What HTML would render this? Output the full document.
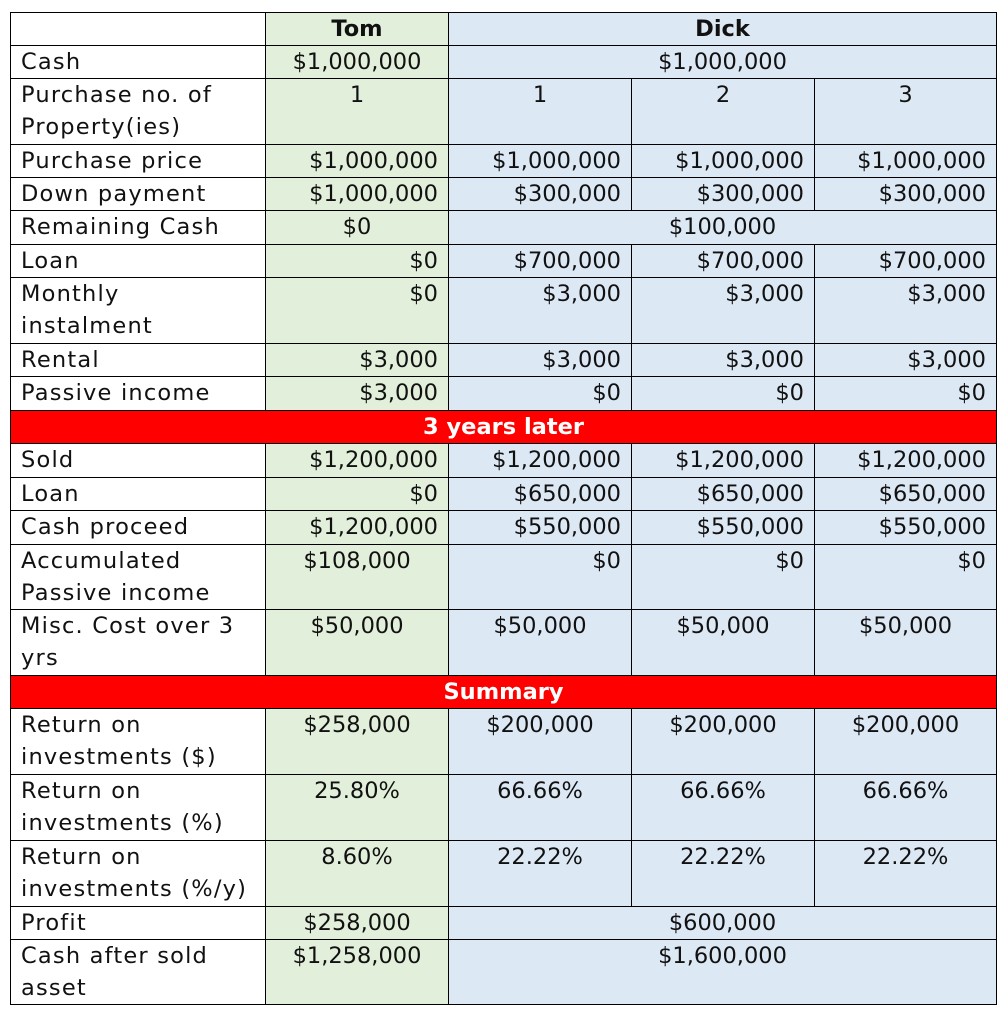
<!DOCTYPE html>
<html><head><meta charset="utf-8"><style>
body{margin:0;background:#fff;width:1003px;height:1029px;overflow:hidden;}
table{position:absolute;left:10px;top:12px;border-collapse:collapse;table-layout:fixed;font-family:"DejaVu Sans","Liberation Sans",sans-serif;font-size:22.5px;color:#111;}
td{border:1px solid #000;padding:0 10px;vertical-align:top;line-height:32px;overflow:hidden;white-space:nowrap;}
td.l{padding-left:10px;text-align:left;letter-spacing:1.2px;}
.g{background:#e2efda;}
.b{background:#dde8f5;}
.r{text-align:right;}
.c{text-align:center;}
.red{background:#ff0000;color:#fff;font-weight:bold;text-align:center;}
.h{font-weight:bold;text-align:center;}
</style></head><body>
<table>
<colgroup><col style="width:255px"><col style="width:183px"><col style="width:183px"><col style="width:183px"><col style="width:182px"></colgroup>
<tr style="height:33px"><td></td><td class="g h">Tom</td><td class="b h" colspan="3">Dick</td></tr>
<tr style="height:33px"><td class="l">Cash</td><td class="g c">$1,000,000</td><td class="b c" colspan="3">$1,000,000</td></tr>
<tr style="height:66px"><td class="l">Purchase no. of<br>Property(ies)</td><td class="g c">1</td><td class="b c">1</td><td class="b c">2</td><td class="b c">3</td></tr>
<tr style="height:33px"><td class="l">Purchase price</td><td class="g r">$1,000,000</td><td class="b r">$1,000,000</td><td class="b r">$1,000,000</td><td class="b r">$1,000,000</td></tr>
<tr style="height:33px"><td class="l">Down payment</td><td class="g r">$1,000,000</td><td class="b r">$300,000</td><td class="b r">$300,000</td><td class="b r">$300,000</td></tr>
<tr style="height:34px"><td class="l">Remaining Cash</td><td class="g c">$0</td><td class="b c" colspan="3">$100,000</td></tr>
<tr style="height:33px"><td class="l">Loan</td><td class="g r">$0</td><td class="b r">$700,000</td><td class="b r">$700,000</td><td class="b r">$700,000</td></tr>
<tr style="height:66px"><td class="l">Monthly<br>instalment</td><td class="g r">$0</td><td class="b r">$3,000</td><td class="b r">$3,000</td><td class="b r">$3,000</td></tr>
<tr style="height:33px"><td class="l">Rental</td><td class="g r">$3,000</td><td class="b r">$3,000</td><td class="b r">$3,000</td><td class="b r">$3,000</td></tr>
<tr style="height:34px"><td class="l">Passive income</td><td class="g r">$3,000</td><td class="b r">$0</td><td class="b r">$0</td><td class="b r">$0</td></tr>
<tr style="height:33px"><td class="red" colspan="5">3 years later</td></tr>
<tr style="height:34px"><td class="l">Sold</td><td class="g r">$1,200,000</td><td class="b r">$1,200,000</td><td class="b r">$1,200,000</td><td class="b r">$1,200,000</td></tr>
<tr style="height:33px"><td class="l">Loan</td><td class="g r">$0</td><td class="b r">$650,000</td><td class="b r">$650,000</td><td class="b r">$650,000</td></tr>
<tr style="height:34px"><td class="l">Cash proceed</td><td class="g r">$1,200,000</td><td class="b r">$550,000</td><td class="b r">$550,000</td><td class="b r">$550,000</td></tr>
<tr style="height:65px"><td class="l">Accumulated<br>Passive income</td><td class="g c">$108,000</td><td class="b r">$0</td><td class="b r">$0</td><td class="b r">$0</td></tr>
<tr style="height:66px"><td class="l">Misc. Cost over 3<br>yrs</td><td class="g c">$50,000</td><td class="b c">$50,000</td><td class="b c">$50,000</td><td class="b c">$50,000</td></tr>
<tr style="height:33px"><td class="red" colspan="5">Summary</td></tr>
<tr style="height:66px"><td class="l">Return on<br>investments ($)</td><td class="g c">$258,000</td><td class="b c">$200,000</td><td class="b c">$200,000</td><td class="b c">$200,000</td></tr>
<tr style="height:66px"><td class="l">Return on<br>investments (%)</td><td class="g c">25.80%</td><td class="b c">66.66%</td><td class="b c">66.66%</td><td class="b c">66.66%</td></tr>
<tr style="height:66px"><td class="l">Return on<br>investments (%/y)</td><td class="g c">8.60%</td><td class="b c">22.22%</td><td class="b c">22.22%</td><td class="b c">22.22%</td></tr>
<tr style="height:33px"><td class="l">Profit</td><td class="g c">$258,000</td><td class="b c" colspan="3">$600,000</td></tr>
<tr style="height:65px"><td class="l">Cash after sold<br>asset</td><td class="g c">$1,258,000</td><td class="b c" colspan="3">$1,600,000</td></tr>
</table>
</body></html>
